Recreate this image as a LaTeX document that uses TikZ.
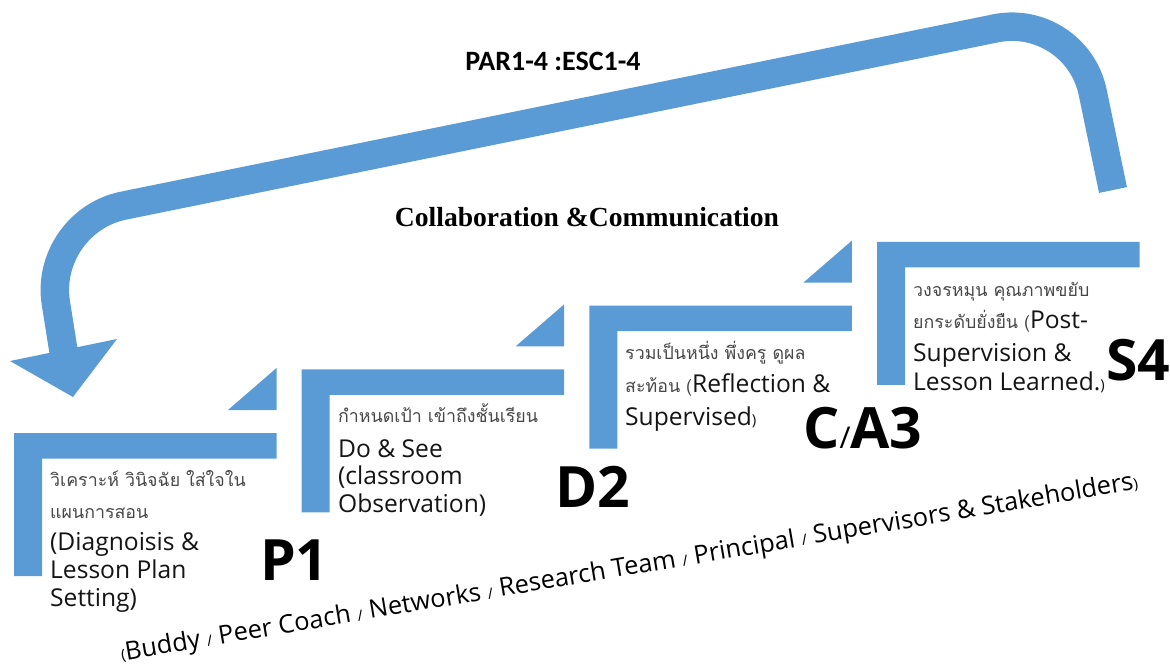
\documentclass[tikz,border=0pt]{standalone}
\usepackage{fontspec}
\setmainfont{Open Sans}
\newfontfamily\thaifont[Script=Thai]{Loma}
\newfontfamily\calibfont{Carlito}
\newfontfamily\timesfont{Liberation Serif}
\definecolor{stepblue}{HTML}{5B9BD5}
\newcommand\smq[1]{{\fontsize{15}{15}\selectfont #1}}
\newcommand\thaismall{\thaifont\fontsize{17.8}{20}\selectfont}
\begin{document}
\begin{tikzpicture}[x=1pt,y=-1pt,
  bandfill/.style={fill=stepblue,draw=none},
  arrowband/.style={draw=stepblue,line width=28.5pt,rounded corners=82pt},
  thai/.style={anchor=base west,inner sep=0pt,text=black!72,font=\thaismall},
  eng/.style={anchor=base west,inner sep=0pt,text=black!92,font=\fontsize{24.6}{28}\selectfont},
  biglabel/.style={anchor=base west,inner sep=0pt,font=\bfseries\fontsize{57}{60}\selectfont}]
\useasboundingbox (0,0) rectangle (1170,665);
% steps
\foreach \i in {0,1,2,3}{
  \pgfmathsetmacro\xo{14+287.67*\i}
  \pgfmathsetmacro\yo{433-63.67*\i}
  \fill[stepblue] (\xo,\yo) -- ++(262.5,0) -- ++(0,25.5) -- ++(-234.5,0) -- ++(0,117.5) -- ++(-28,0) -- cycle;
}
\foreach \i in {0,1,2}{
  \pgfmathsetmacro\xo{14+287.67*\i}
  \pgfmathsetmacro\yo{433-63.67*\i}
  \fill[stepblue] (\xo+214,\yo-23) -- (\xo+262.5,\yo-65) -- (\xo+262.5,\yo-23) -- cycle;
}
% big return arrow
\coordinate (a0) at (1113,190);
\coordinate (a1) at (1076,12);
\coordinate (a2) at (43,222);
\coordinate (a3) at (63.5,351);
\draw[arrowband] (a0) -- (a1) -- (a2) -- (a3);
\coordinate (hl) at (10,361);
\coordinate (ht) at (73,397);
\coordinate (hr) at (117,339);
\fill[stepblue] (hl) -- (ht) -- (hr) -- cycle;
% top labels
\node[anchor=base,inner sep=0pt,font=\calibfont\bfseries\fontsize{28}{30}\selectfont] (par) at (553,70) {PAR1-4 :ESC1-4};
\node[anchor=base,inner sep=0pt,font=\timesfont\bfseries\fontsize{27.6}{30}\selectfont] (collab) at (587,226) {Collaboration \&Communication};
% step 1 text
\node[thai] (t1a) at (50,486) {วิเคราะห์ วินิจฉัย ใส่ใจใน};
\node[thai] (t1b) at (50,518) {แผนการสอน};
\node[eng] (t1c) at (50,550) {(Diagnoisis \&};
\node[eng] (t1d) at (50,578) {Lesson Plan};
\node[eng] (t1e) at (50,606) {Setting)};
% step 2 text
\node[thai] (t2a) at (338,422) {กำหนดเป้า เข้าถึงชั้นเรียน};
\node[eng] (t2b) at (338,457) {Do \& See};
\node[eng] (t2c) at (338,484) {(classroom};
\node[eng] (t2d) at (338,512) {Observation)};
% step 3 text
\node[thai] (t3a) at (625,359) {รวมเป็นหนึ่ง พึ่งครู ดูผล};
\node[eng] (t3b) at (625,392) {{\thaismall\color{black!72}สะท้อน (}Reflection \&};
\node[eng] (t3c) at (625,425) {Supervised\smq{)}};
% step 4 text
\node[thai] (t4a) at (913,296) {วงจรหมุน คุณภาพขยับ};
\node[eng] (t4b) at (913,328) {{\thaismall\color{black!72}ยกระดับยั่งยืน (}Post-};
\node[eng] (t4c) at (913,361) {Supervision \&};
\node[eng] (t4d) at (913,390) {Lesson Learned.\smq{)}};
% big labels
\node[biglabel] (p1) at (260,580) {P1};
\node[biglabel] (d2) at (555,507) {D2};
\node[biglabel] (ca3) at (803,448) {C{\fontsize{30}{30}\selectfont\mdseries /}A3};
\node[biglabel] (s4) at (1106,380) {S4};
% bottom rotated text
\node[anchor=base west,inner sep=0pt,rotate=9.6,text=black,font=\fontsize{25.4}{28}\selectfont] (team) at (122,661)
  {\smq{(}Buddy \smq{/} Peer Coach \smq{/} Networks \smq{/} Research Team \smq{/} Principal \smq{/} Supervisors \& Stakeholders\smq{)}};
\end{tikzpicture}
\end{document}
